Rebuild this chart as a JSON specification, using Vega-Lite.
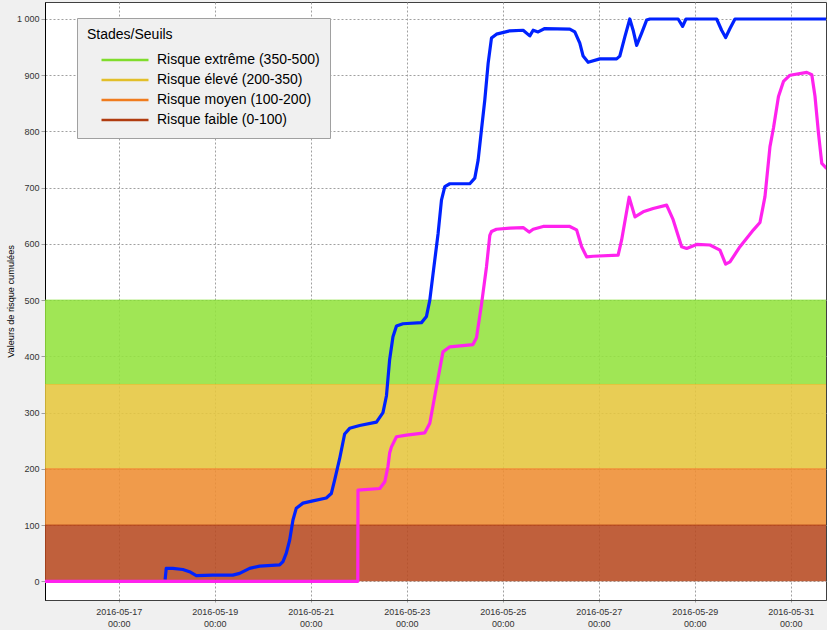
{
  "$schema": "https://vega.github.io/schema/vega-lite/v6.json",
  "width": 781,
  "height": 598,
  "autosize": {"type": "none"},
  "padding": {"left": 45, "top": 2, "right": 1, "bottom": 30},
  "background": "#f0f0f0",
  "config": {
    "view": {"stroke": "#404040", "fill": "#ffffff", "strokeWidth": 1},
    "font": "Liberation Sans"
  },
  "datasets": {
    "bands": [
      {"band": "Risque extrême (350-500)", "lo": 350, "hi": 500},
      {"band": "Risque élevé (200-350)", "lo": 200, "hi": 350},
      {"band": "Risque moyen (100-200)", "lo": 100, "hi": 200},
      {"band": "Risque faible (0-100)", "lo": 0, "hi": 100}
    ],
    "curves": [
      {"s": "b", "t": "2016-05-17T23:10", "v": 3},
      {"s": "b", "t": "2016-05-17T23:43", "v": 23},
      {"s": "b", "t": "2016-05-18T03:00", "v": 23},
      {"s": "b", "t": "2016-05-18T08:00", "v": 21},
      {"s": "b", "t": "2016-05-18T11:20", "v": 17},
      {"s": "b", "t": "2016-05-18T14:45", "v": 10},
      {"s": "b", "t": "2016-05-18T23:00", "v": 11},
      {"s": "b", "t": "2016-05-19T09:00", "v": 11},
      {"s": "b", "t": "2016-05-19T12:25", "v": 14},
      {"s": "b", "t": "2016-05-19T17:25", "v": 23},
      {"s": "b", "t": "2016-05-19T22:25", "v": 27},
      {"s": "b", "t": "2016-05-20T08:25", "v": 29},
      {"s": "b", "t": "2016-05-20T10:05", "v": 35},
      {"s": "b", "t": "2016-05-20T11:45", "v": 50},
      {"s": "b", "t": "2016-05-20T13:25", "v": 73},
      {"s": "b", "t": "2016-05-20T15:05", "v": 109},
      {"s": "b", "t": "2016-05-20T16:45", "v": 130},
      {"s": "b", "t": "2016-05-20T20:05", "v": 139},
      {"s": "b", "t": "2016-05-21T01:05", "v": 143},
      {"s": "b", "t": "2016-05-21T07:45", "v": 148},
      {"s": "b", "t": "2016-05-21T10:15", "v": 156},
      {"s": "b", "t": "2016-05-21T11:55", "v": 180},
      {"s": "b", "t": "2016-05-21T14:25", "v": 218},
      {"s": "b", "t": "2016-05-21T16:55", "v": 262},
      {"s": "b", "t": "2016-05-21T19:25", "v": 272},
      {"s": "b", "t": "2016-05-22T00:25", "v": 277},
      {"s": "b", "t": "2016-05-22T08:50", "v": 283},
      {"s": "b", "t": "2016-05-22T12:05", "v": 300},
      {"s": "b", "t": "2016-05-22T13:50", "v": 330},
      {"s": "b", "t": "2016-05-22T15:25", "v": 394},
      {"s": "b", "t": "2016-05-22T17:05", "v": 435},
      {"s": "b", "t": "2016-05-22T18:50", "v": 454},
      {"s": "b", "t": "2016-05-22T22:05", "v": 458},
      {"s": "b", "t": "2016-05-23T07:20", "v": 460},
      {"s": "b", "t": "2016-05-23T09:50", "v": 471},
      {"s": "b", "t": "2016-05-23T11:30", "v": 500},
      {"s": "b", "t": "2016-05-23T13:10", "v": 548},
      {"s": "b", "t": "2016-05-23T15:40", "v": 619},
      {"s": "b", "t": "2016-05-23T17:20", "v": 678},
      {"s": "b", "t": "2016-05-23T19:00", "v": 702},
      {"s": "b", "t": "2016-05-23T21:30", "v": 707},
      {"s": "b", "t": "2016-05-24T07:30", "v": 707},
      {"s": "b", "t": "2016-05-24T10:00", "v": 717},
      {"s": "b", "t": "2016-05-24T11:40", "v": 749},
      {"s": "b", "t": "2016-05-24T13:20", "v": 803},
      {"s": "b", "t": "2016-05-24T15:00", "v": 856},
      {"s": "b", "t": "2016-05-24T16:40", "v": 921},
      {"s": "b", "t": "2016-05-24T18:20", "v": 966},
      {"s": "b", "t": "2016-05-24T20:50", "v": 973},
      {"s": "b", "t": "2016-05-25T03:30", "v": 979},
      {"s": "b", "t": "2016-05-25T10:10", "v": 980},
      {"s": "b", "t": "2016-05-25T13:30", "v": 970},
      {"s": "b", "t": "2016-05-25T15:10", "v": 980},
      {"s": "b", "t": "2016-05-25T17:40", "v": 977},
      {"s": "b", "t": "2016-05-25T21:00", "v": 983},
      {"s": "b", "t": "2016-05-26T09:30", "v": 982},
      {"s": "b", "t": "2016-05-26T12:00", "v": 977},
      {"s": "b", "t": "2016-05-26T14:30", "v": 957},
      {"s": "b", "t": "2016-05-26T16:10", "v": 934},
      {"s": "b", "t": "2016-05-26T18:40", "v": 923},
      {"s": "b", "t": "2016-05-27T00:30", "v": 929},
      {"s": "b", "t": "2016-05-27T08:55", "v": 929},
      {"s": "b", "t": "2016-05-27T10:30", "v": 934},
      {"s": "b", "t": "2016-05-27T13:05", "v": 969},
      {"s": "b", "t": "2016-05-27T15:30", "v": 1000},
      {"s": "b", "t": "2016-05-27T17:10", "v": 980},
      {"s": "b", "t": "2016-05-27T18:55", "v": 953},
      {"s": "b", "t": "2016-05-27T21:25", "v": 975},
      {"s": "b", "t": "2016-05-27T23:55", "v": 998},
      {"s": "b", "t": "2016-05-28T01:35", "v": 1000},
      {"s": "b", "t": "2016-05-28T15:40", "v": 1000},
      {"s": "b", "t": "2016-05-28T17:55", "v": 987},
      {"s": "b", "t": "2016-05-28T19:35", "v": 1000},
      {"s": "b", "t": "2016-05-29T10:55", "v": 1000},
      {"s": "b", "t": "2016-05-29T13:25", "v": 980},
      {"s": "b", "t": "2016-05-29T15:25", "v": 967},
      {"s": "b", "t": "2016-05-29T17:35", "v": 983},
      {"s": "b", "t": "2016-05-29T20:05", "v": 1000},
      {"s": "b", "t": "2016-05-31T18:00", "v": 1000},
      {"s": "m", "t": "2016-05-15T11:00", "v": 0},
      {"s": "m", "t": "2016-05-21T23:30", "v": 0},
      {"s": "m", "t": "2016-05-21T23:36", "v": 162},
      {"s": "m", "t": "2016-05-22T10:30", "v": 165},
      {"s": "m", "t": "2016-05-22T13:00", "v": 177},
      {"s": "m", "t": "2016-05-22T14:35", "v": 204},
      {"s": "m", "t": "2016-05-22T15:25", "v": 228},
      {"s": "m", "t": "2016-05-22T16:20", "v": 239},
      {"s": "m", "t": "2016-05-22T18:50", "v": 257},
      {"s": "m", "t": "2016-05-22T23:50", "v": 260},
      {"s": "m", "t": "2016-05-23T09:00", "v": 264},
      {"s": "m", "t": "2016-05-23T11:30", "v": 281},
      {"s": "m", "t": "2016-05-23T14:50", "v": 346},
      {"s": "m", "t": "2016-05-23T18:05", "v": 408},
      {"s": "m", "t": "2016-05-23T21:30", "v": 417},
      {"s": "m", "t": "2016-05-24T09:05", "v": 421},
      {"s": "m", "t": "2016-05-24T10:50", "v": 433},
      {"s": "m", "t": "2016-05-24T13:20", "v": 492},
      {"s": "m", "t": "2016-05-24T15:50", "v": 559},
      {"s": "m", "t": "2016-05-24T17:30", "v": 615},
      {"s": "m", "t": "2016-05-24T18:20", "v": 622},
      {"s": "m", "t": "2016-05-24T20:50", "v": 626},
      {"s": "m", "t": "2016-05-25T03:30", "v": 628},
      {"s": "m", "t": "2016-05-25T10:10", "v": 629},
      {"s": "m", "t": "2016-05-25T13:10", "v": 621},
      {"s": "m", "t": "2016-05-25T15:10", "v": 626},
      {"s": "m", "t": "2016-05-25T20:10", "v": 631},
      {"s": "m", "t": "2016-05-26T09:30", "v": 631},
      {"s": "m", "t": "2016-05-26T12:55", "v": 625},
      {"s": "m", "t": "2016-05-26T15:25", "v": 595},
      {"s": "m", "t": "2016-05-26T17:55", "v": 577},
      {"s": "m", "t": "2016-05-26T21:10", "v": 578},
      {"s": "m", "t": "2016-05-27T09:40", "v": 580},
      {"s": "m", "t": "2016-05-27T11:25", "v": 607},
      {"s": "m", "t": "2016-05-27T15:10", "v": 683},
      {"s": "m", "t": "2016-05-27T18:05", "v": 648},
      {"s": "m", "t": "2016-05-27T22:10", "v": 657},
      {"s": "m", "t": "2016-05-28T03:10", "v": 663},
      {"s": "m", "t": "2016-05-28T09:55", "v": 669},
      {"s": "m", "t": "2016-05-28T13:10", "v": 643},
      {"s": "m", "t": "2016-05-28T17:25", "v": 595},
      {"s": "m", "t": "2016-05-28T19:55", "v": 592},
      {"s": "m", "t": "2016-05-29T00:55", "v": 599},
      {"s": "m", "t": "2016-05-29T07:35", "v": 598},
      {"s": "m", "t": "2016-05-29T12:35", "v": 589},
      {"s": "m", "t": "2016-05-29T15:25", "v": 564},
      {"s": "m", "t": "2016-05-29T17:35", "v": 568},
      {"s": "m", "t": "2016-05-29T22:35", "v": 595},
      {"s": "m", "t": "2016-05-30T05:20", "v": 625},
      {"s": "m", "t": "2016-05-30T08:35", "v": 638},
      {"s": "m", "t": "2016-05-30T11:05", "v": 684},
      {"s": "m", "t": "2016-05-30T13:35", "v": 773},
      {"s": "m", "t": "2016-05-30T15:20", "v": 806},
      {"s": "m", "t": "2016-05-30T17:50", "v": 862},
      {"s": "m", "t": "2016-05-30T20:20", "v": 889},
      {"s": "m", "t": "2016-05-30T23:35", "v": 900},
      {"s": "m", "t": "2016-05-31T08:00", "v": 905},
      {"s": "m", "t": "2016-05-31T10:30", "v": 901},
      {"s": "m", "t": "2016-05-31T12:05", "v": 863},
      {"s": "m", "t": "2016-05-31T13:50", "v": 797},
      {"s": "m", "t": "2016-05-31T15:30", "v": 743},
      {"s": "m", "t": "2016-05-31T18:00", "v": 734}
    ]
  },
  "layer": [
    {
      "data": {"name": "bands"},
      "mark": {"type": "rect", "fillOpacity": 0.88},
      "encoding": {
        "y": {
          "field": "lo", "type": "quantitative",
          "scale": {"domain": [-33.3, 1030.2], "nice": false, "zero": false},
          "axis": {
            "values": [0, 50, 100, 150, 200, 250, 300, 350, 400, 450, 500, 550, 600, 650, 700, 750, 800, 850, 900, 950, 1000],
            "title": "Valeurs de risque cumulées",
            "titleFont": "Liberation Sans", "titleFontSize": 9.2, "titleFontWeight": "normal", "titleColor": "#000000",
            "titleX": -30, "titleY": 299, "titleBaseline": "bottom", "titleAngle": 270,
            "labelExpr": "datum.value == 1000 ? '1 000' : datum.label",
            "labelFont": "Liberation Sans", "labelFontSize": 9, "labelColor": "#333333",
            "labelPadding": 2, "tickSize": 4, "tickColor": "#a0a0a0",
            "grid": true, "gridColor": "#a0a0a0", "gridDash": [2, 2],
            "domainColor": "#000000", "domainWidth": 1, "labelFlush": false, "labelOverlap": false
          }
        },
        "y2": {"field": "hi"},
        "fill": {
          "field": "band", "type": "nominal",
          "scale": {
            "domain": ["Risque faible (0-100)", "Risque moyen (100-200)", "Risque élevé (200-350)", "Risque extrême (350-500)"],
            "range": ["#b74a21", "#ee8d32", "#e5c63e", "#93e23e"]
          },
          "legend": null
        }
      }
    },
    {
      "data": {"name": "bands"},
      "mark": {"type": "rule", "strokeWidth": 1, "strokeOpacity": 0.8},
      "encoding": {
        "y": {"field": "hi", "type": "quantitative"},
        "color": {
          "field": "band", "type": "nominal",
          "scale": {
            "domain": ["Risque extrême (350-500)", "Risque élevé (200-350)", "Risque moyen (100-200)", "Risque faible (0-100)"],
            "range": ["#80dc2c", "#e2bf2a", "#f07c1e", "#b03c10"]
          },
          "legend": {
            "orient": "none", "legendX": 32, "legendY": 16,
            "title": "Stades/Seuils", "titleFont": "Liberation Sans", "titleFontSize": 14, "titleFontWeight": "normal",
            "titleColor": "#000000", "titlePadding": 10,
            "labelFont": "Liberation Sans", "labelFontSize": 14, "labelColor": "#000000", "labelLimit": 400,
            "symbolType": "stroke", "symbolSize": 2209, "symbolStrokeWidth": 2.5, "symbolOpacity": 1,
            "symbolOffset": 13, "labelOffset": 7, "rowPadding": 4, "clipHeight": 16,
            "padding": 10, "fillColor": "#f0f0f0", "strokeColor": "#a0a0a0", "cornerRadius": 0
          }
        }
      }
    },
    {
      "data": {"name": "curves"},
      "mark": {"type": "line", "strokeWidth": 3.2, "clip": true, "strokeJoin": "round"},
      "encoding": {
        "x": {
          "field": "t", "type": "temporal",
          "scale": {"domain": [{"year": 2016, "month": 5, "date": 15, "hours": 11, "minutes": 6}, {"year": 2016, "month": 5, "date": 31, "hours": 17, "minutes": 36}], "nice": false},
          "axis": {
            "values": [
              {"year": 2016, "month": 5, "date": 17},
              {"year": 2016, "month": 5, "date": 19},
              {"year": 2016, "month": 5, "date": 21},
              {"year": 2016, "month": 5, "date": 23},
              {"year": 2016, "month": 5, "date": 25},
              {"year": 2016, "month": 5, "date": 27},
              {"year": 2016, "month": 5, "date": 29},
              {"year": 2016, "month": 5, "date": 31}
            ],
            "title": null,
            "labelExpr": "[timeFormat(datum.value, '%Y-%m-%d'), timeFormat(datum.value, '%H:%M')]",
            "labelFont": "Liberation Sans", "labelFontSize": 9, "labelLineHeight": 12,
            "labelColor": "#333333", "labelPadding": 3, "labelFlush": false, "labelOverlap": false,
            "tickSize": 4, "tickColor": "#a0a0a0", "tickDash": [2, 2],
            "grid": true, "gridColor": "#a0a0a0", "gridDash": [2, 2],
            "domainColor": "#404040"
          }
        },
        "y": {"field": "v", "type": "quantitative"},
        "stroke": {
          "field": "s", "type": "nominal",
          "scale": {"domain": ["b", "m"], "range": ["#0022ff", "#ff22ee"]},
          "legend": null
        }
      }
    }
  ]
}
